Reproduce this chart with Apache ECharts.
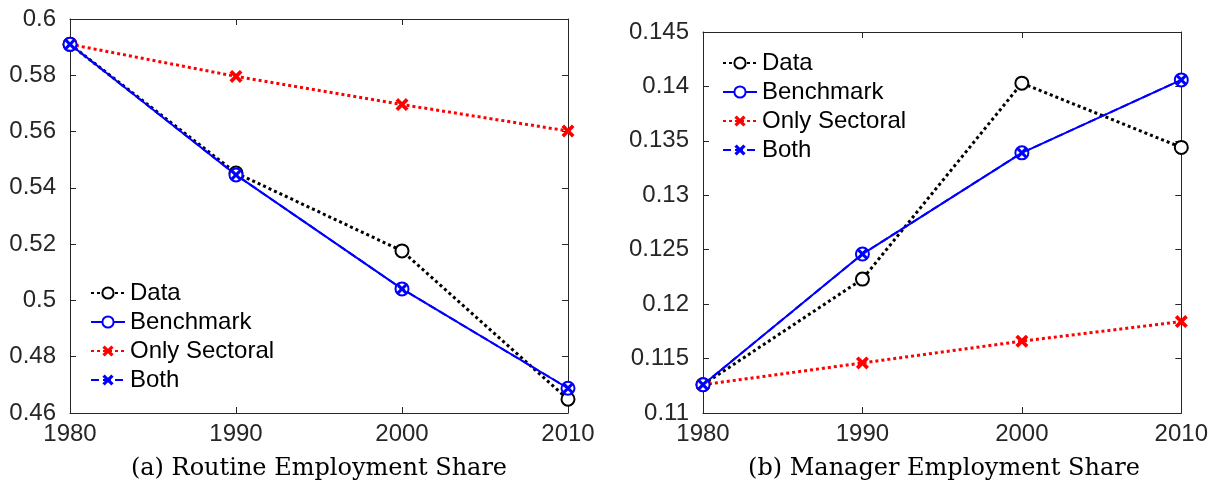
<!DOCTYPE html>
<html>
<head>
<meta charset="utf-8">
<script src="https://cdn.jsdelivr.net/npm/echarts@6/dist/echarts.min.js"></script>
<style>
html,body{margin:0;padding:0;background:#fff;}
#chart{width:1211px;height:488px;}
</style>
</head>
<body>
<div id="chart"></div>
<script>
const years = [1980, 1990, 2000, 2010];
const seriesNames = ['Data', 'Benchmark', 'Only Sectoral', 'Both'];
const routineData = [0.591, 0.5453, 0.5176, 0.4649];
const routineBenchmark = [0.591, 0.5446, 0.5041, 0.4688];
const routineSectoral = [0.591, 0.5796, 0.5696, 0.5602];
const routineBoth = [0.591, 0.5446, 0.5041, 0.4688];
const managerData = [0.1126, 0.1223, 0.1403, 0.1344];
const managerBenchmark = [0.1126, 0.1246, 0.1339, 0.1406];
const managerSectoral = [0.1126, 0.1146, 0.1166, 0.1184];
const managerBoth = [0.1126, 0.1246, 0.1339, 0.1406];
const captions = ['(a) Routine Employment Share', '(b) Manager Employment Share'];

const pair = (ys) => years.map((y, i) => [y, ys[i]]);
const X_PATH = 'path://M2,0 L5,3 L8,0 L10,2 L7,5 L10,8 L8,10 L5,7 L2,10 L0,8 L3,5 L0,2 Z';
const axisCol = '#262626';
const sans = 'Liberation Sans, Arial, Helvetica, sans-serif';

function xAxes(gridIndex) {
  const base = {
    type: 'value', gridIndex, min: 1980, max: 2010, interval: 10,
    axisLine: {show: true, onZero: false, lineStyle: {color: axisCol, width: 1}},
    axisTick: {show: true, inside: true, length: 6, lineStyle: {color: axisCol}},
    splitLine: {show: false}
  };
  return [
    Object.assign({}, base, {position: 'bottom',
      axisLabel: {show: true, margin: 9, color: axisCol, fontSize: 24, fontFamily: sans, formatter: v => String(v)}}),
    Object.assign({}, base, {position: 'top', axisLabel: {show: false}})
  ];
}
function yAxes(gridIndex, min, max, interval) {
  const base = {
    type: 'value', gridIndex, min, max, interval,
    axisLine: {show: true, onZero: false, lineStyle: {color: axisCol, width: 1}},
    axisTick: {show: true, inside: true, length: 6, lineStyle: {color: axisCol}},
    splitLine: {show: false}
  };
  return [
    Object.assign({}, base, {position: 'left',
      axisLabel: {show: true, margin: 14, color: axisCol, fontSize: 24, fontFamily: sans}}),
    Object.assign({}, base, {position: 'right', axisLabel: {show: false}})
  ];
}

function makeSeries(xi, yi, arrs) {
  const common = {type: 'line', xAxisIndex: xi, yAxisIndex: yi, animation: false, symbolKeepAspect: true};
  return [
    Object.assign({}, common, {name: seriesNames[0], data: pair(arrs[0]), symbol: 'emptyCircle', symbolSize: 13,
      itemStyle: {color: '#000', borderColor: '#000', borderWidth: 3},
      lineStyle: {color: '#000', width: 3, type: [3, 3]}, z: 2}),
    Object.assign({}, common, {name: seriesNames[1], data: pair(arrs[1]), symbol: 'emptyCircle', symbolSize: 13,
      itemStyle: {color: '#0000ff', borderColor: '#0000ff', borderWidth: 2},
      lineStyle: {color: '#0000ff', width: 2, type: 'solid'}, z: 3}),
    Object.assign({}, common, {name: seriesNames[2], data: pair(arrs[2]), symbol: X_PATH, symbolSize: 13,
      itemStyle: {color: '#ff0000'},
      lineStyle: {color: '#ff0000', width: 3, type: [3, 3]}, z: 2}),
    Object.assign({}, common, {name: seriesNames[3], data: pair(arrs[3]), symbol: X_PATH, symbolSize: 11,
      itemStyle: {color: '#0000ff'},
      lineStyle: {color: '#0000ff', width: 2, type: [8, 4]}, z: 4})
  ];
}

const legendBase = {
  orient: 'vertical', padding: 0, itemWidth: 34, itemHeight: 14, itemGap: 5,
  textStyle: {fontSize: 24, fontFamily: sans, color: '#000', lineHeight: 24},
  data: seriesNames, selectedMode: false
};

const chart = echarts.init(document.getElementById('chart'), null, {renderer: 'canvas'});
chart.setOption({
  backgroundColor: '#fff',
  animation: false,
  grid: [
    {left: 70, top: 19, width: 498, height: 394, containLabel: false},
    {left: 703, top: 32, width: 483, height: 381, containLabel: false}
  ],
  xAxis: [...xAxes(0), ...xAxes(1)],
  yAxis: [...yAxes(0, 0.46, 0.6, 0.02), ...yAxes(1, 0.11, 0.145, 0.005)],
  legend: [
    Object.assign({}, legendBase, {left: 90, top: 281}),
    Object.assign({}, legendBase, {left: 722, top: 51})
  ],
  graphic: [
    {type: 'text', x: 319, y: 469, style: {text: captions[0], align: 'center', verticalAlign: 'middle',
      font: '24px "DejaVu Serif", serif', fill: '#000'}},
    {type: 'text', x: 944, y: 469, style: {text: captions[1], align: 'center', verticalAlign: 'middle',
      font: '24px "DejaVu Serif", serif', fill: '#000'}}
  ],
  series: [
    ...makeSeries(0, 0, [routineData, routineBenchmark, routineSectoral, routineBoth]),
    ...makeSeries(2, 2, [managerData, managerBenchmark, managerSectoral, managerBoth])
  ]
});
</script>
</body>
</html>
